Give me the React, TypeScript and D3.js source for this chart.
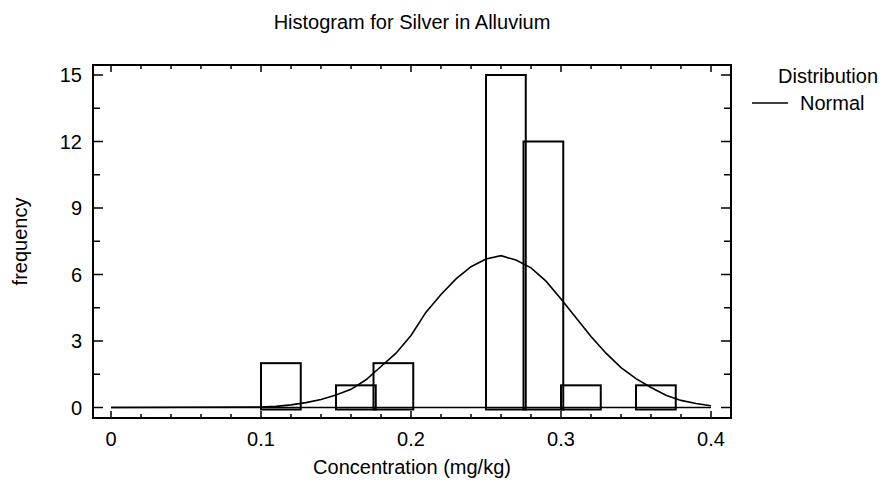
import React, { useEffect, useRef } from "react";
import * as d3 from "d3";

// histogram bins (bin start, mg/kg) and their counts
const binStarts = [0.1, 0.15, 0.175, 0.25, 0.275, 0.3, 0.35];
const binCounts = [2, 1, 2, 15, 12, 1, 1];
const binWidth = 0.025;

// fitted normal curve
const curveX = [0, 0.1, 0.11, 0.12, 0.13, 0.14, 0.15, 0.16, 0.17, 0.18, 0.19, 0.2, 0.21, 0.22, 0.23, 0.24, 0.25, 0.26, 0.27, 0.28, 0.29, 0.3, 0.31, 0.32, 0.33, 0.34, 0.35, 0.36, 0.37, 0.38, 0.39, 0.4];
const curveY = [0, 0.02, 0.05, 0.12, 0.22, 0.36, 0.56, 0.82, 1.25, 1.85, 2.45, 3.25, 4.3, 5.1, 5.8, 6.35, 6.7, 6.85, 6.65, 6.3, 5.7, 4.9, 4.05, 3.2, 2.45, 1.8, 1.3, 0.9, 0.55, 0.32, 0.18, 0.08];

const xTicks = [0, 0.1, 0.2, 0.3, 0.4];
const yTicks = [0, 3, 6, 9, 12, 15];

export default function App() {
  const svgRef = useRef<SVGSVGElement>(null);

  useEffect(() => {
    if (!svgRef.current) return;
    const svg = d3.select(svgRef.current);
    svg.selectAll("*").remove();

    const font = "'Liberation Sans', Arial, sans-serif";
    const fs = "20px";
    const box = { left: 93, right: 731, top: 65, bottom: 418 };

    const x = d3.scaleLinear().domain([0, 0.4]).range([111, 711]);
    const y = d3.scaleLinear().domain([0, 15]).range([407.5, 75]);

    // frame
    svg.append("rect")
      .attr("x", box.left)
      .attr("y", box.top)
      .attr("width", box.right - box.left)
      .attr("height", box.bottom - box.top)
      .attr("fill", "none")
      .attr("stroke", "#000")
      .attr("stroke-width", 2);

    // x ticks, bottom and top, pointing inward
    const xMinor = d3.range(0, 0.4001, 0.02);
    xMinor.forEach(v => {
      const major = xTicks.some(t => Math.abs(t - v) < 1e-6);
      const len = major ? 7 : 4;
      svg.append("line")
        .attr("x1", x(v)).attr("x2", x(v))
        .attr("y1", box.bottom).attr("y2", box.bottom - len)
        .attr("stroke", "#000").attr("stroke-width", 1.5);
      svg.append("line")
        .attr("x1", x(v)).attr("x2", x(v))
        .attr("y1", box.top).attr("y2", box.top + len)
        .attr("stroke", "#000").attr("stroke-width", 1.5);
    });

    // y ticks, left and right
    const yMinor = d3.range(0, 15.001, 1.5);
    yMinor.forEach(v => {
      const major = yTicks.some(t => Math.abs(t - v) < 1e-6);
      const len = major ? 10 : 7;
      svg.append("line")
        .attr("x1", box.left).attr("x2", box.left + len)
        .attr("y1", y(v)).attr("y2", y(v))
        .attr("stroke", "#000").attr("stroke-width", 1.5);
      svg.append("line")
        .attr("x1", box.right).attr("x2", box.right - len)
        .attr("y1", y(v)).attr("y2", y(v))
        .attr("stroke", "#000").attr("stroke-width", 1.5);
    });

    // tick labels
    svg.selectAll(".xl")
      .data(xTicks)
      .enter()
      .append("text")
      .attr("x", d => x(d))
      .attr("y", 446)
      .attr("text-anchor", "middle")
      .attr("font-family", font)
      .attr("font-size", fs)
      .text(d => String(d));

    svg.selectAll(".yl")
      .data(yTicks)
      .enter()
      .append("text")
      .attr("x", 82)
      .attr("y", d => y(d) + 7)
      .attr("text-anchor", "end")
      .attr("font-family", font)
      .attr("font-size", fs)
      .text(d => String(d));

    // baseline of the histogram
    svg.append("line")
      .attr("x1", x(0)).attr("x2", x(0.4))
      .attr("y1", y(0)).attr("y2", y(0))
      .attr("stroke", "#000").attr("stroke-width", 1.6);

    // bars (drawn slightly wider than the bin, as in the original)
    binStarts.forEach((b, i) => {
      const x0 = x(b);
      const x1 = x(b + binWidth * 1.06);
      svg.append("rect")
        .attr("x", x0)
        .attr("y", y(binCounts[i]))
        .attr("width", x1 - x0)
        .attr("height", y(0) - y(binCounts[i]) + 2)
        .attr("fill", "none")
        .attr("stroke", "#000")
        .attr("stroke-width", 2);
    });

    // normal curve
    const pts: [number, number][] = curveX.map((v, i) => [v, curveY[i]]);
    const line = d3.line<[number, number]>()
      .x(d => x(d[0]))
      .y(d => y(d[1]));
    svg.append("path")
      .attr("d", line(pts))
      .attr("fill", "none")
      .attr("stroke", "#000")
      .attr("stroke-width", 1.6);

    // title and axis labels
    svg.append("text")
      .attr("x", (box.left + box.right) / 2)
      .attr("y", 29)
      .attr("text-anchor", "middle")
      .attr("font-family", font)
      .attr("font-size", fs)
      .text("Histogram for Silver in Alluvium");

    svg.append("text")
      .attr("x", (box.left + box.right) / 2)
      .attr("y", 474)
      .attr("text-anchor", "middle")
      .attr("font-family", font)
      .attr("font-size", fs)
      .text("Concentration (mg/kg)");

    svg.append("text")
      .attr("transform", `translate(27,${(box.top + box.bottom) / 2}) rotate(-90)`)
      .attr("text-anchor", "middle")
      .attr("font-family", font)
      .attr("font-size", fs)
      .text("frequency");

    // legend
    svg.append("text")
      .attr("x", 778)
      .attr("y", 83)
      .attr("font-family", font)
      .attr("font-size", fs)
      .text("Distribution");
    svg.append("line")
      .attr("x1", 752).attr("x2", 788)
      .attr("y1", 103).attr("y2", 103)
      .attr("stroke", "#000").attr("stroke-width", 1.6);
    svg.append("text")
      .attr("x", 800)
      .attr("y", 110)
      .attr("font-family", font)
      .attr("font-size", fs)
      .text("Normal");
  }, []);

  return (
    <svg
      ref={svgRef}
      width={891}
      height={489}
      viewBox="0 0 891 489"
      style={{ position: "absolute", left: 0, top: 0, background: "#fff" }}
    />
  );
}
